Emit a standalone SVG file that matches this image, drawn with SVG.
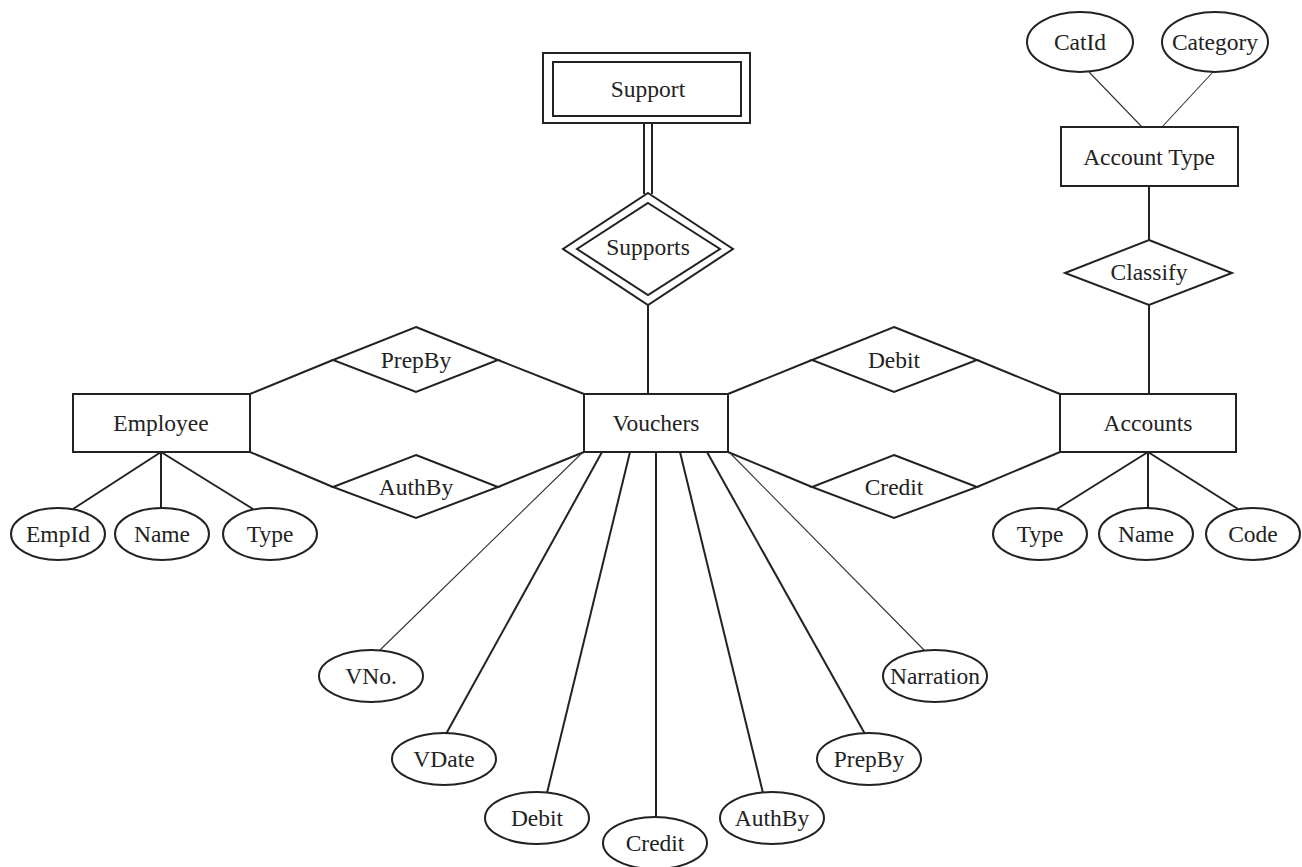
<svg xmlns="http://www.w3.org/2000/svg" width="1302" height="867" viewBox="0 0 1302 867">
<style>
.sh{fill:#fff;stroke:#222;stroke-width:2}
.ln{fill:none;stroke:#222;stroke-width:2}
.thin{fill:none;stroke:#333;stroke-width:1.1}
text{font-family:"Liberation Serif","Times New Roman",serif;font-size:23.5px;fill:#222;text-anchor:middle;dominant-baseline:central}
</style>
<rect width="1302" height="867" fill="#fff"/>
<g id="connectors">
<line class="ln" x1="644" y1="123" x2="644" y2="194"/>
<line class="ln" x1="652" y1="123" x2="652" y2="194"/>
<line class="ln" x1="648" y1="305" x2="648" y2="394"/>
<polyline class="ln" points="250,394 333,360"/>
<polyline class="ln" points="498,360 584,394"/>
<polyline class="ln" points="250,452 333,487"/>
<polyline class="ln" points="498,487 584,452"/>
<polyline class="ln" points="728,394 812,360"/>
<polyline class="ln" points="977,360 1060,394"/>
<polyline class="ln" points="728,452 812,487"/>
<polyline class="ln" points="977,487 1060,452"/>
<line class="ln" x1="1149" y1="186" x2="1149" y2="240"/>
<line class="ln" x1="1149" y1="305" x2="1149" y2="394"/>
<line class="thin" x1="1089" y1="72" x2="1142" y2="127"/>
<line class="thin" x1="1213" y1="72" x2="1162" y2="127"/>
<line class="ln" x1="161" y1="452" x2="73" y2="509"/>
<line class="ln" x1="161" y1="452" x2="161" y2="508"/>
<line class="ln" x1="161" y1="452" x2="253" y2="509"/>
<line class="ln" x1="1148" y1="452" x2="1057" y2="509"/>
<line class="ln" x1="1148" y1="452" x2="1148" y2="508"/>
<line class="ln" x1="1148" y1="452" x2="1238" y2="509"/>
<line class="thin" x1="582" y1="453" x2="380" y2="650"/>
<line class="ln" x1="602" y1="452" x2="446" y2="734"/>
<line class="ln" x1="630" y1="452" x2="547" y2="793"/>
<line class="ln" x1="656" y1="452" x2="656" y2="817"/>
<line class="ln" x1="680" y1="452" x2="763" y2="793"/>
<line class="ln" x1="707" y1="452" x2="865" y2="734"/>
<line class="thin" x1="730" y1="453" x2="925" y2="651"/>
</g>
<g id="support">
<rect class="sh" x="543" y="53" width="207" height="70"/>
<rect class="sh" x="553" y="62" width="188" height="54"/>
<text x="648" y="89">Support</text>
</g>
<g id="supports">
<polygon class="sh" points="648,193 733,249 648,305 563,249"/>
<polygon class="sh" points="648,203 720,249 648,295 577,249"/>
<text x="648" y="247">Supports</text>
</g>
<g id="employee">
<rect class="sh" x="73" y="394" width="177" height="58"/>
<text x="161" y="423">Employee</text>
</g>
<g id="vouchers">
<rect class="sh" x="584" y="394" width="144" height="58"/>
<text x="656" y="423">Vouchers</text>
</g>
<g id="accounts">
<rect class="sh" x="1060" y="394" width="176" height="58"/>
<text x="1148" y="423">Accounts</text>
</g>
<g id="accounttype">
<rect class="sh" x="1061" y="127" width="177" height="59"/>
<text x="1149" y="157">Account Type</text>
</g>
<g id="classify">
<polygon class="sh" points="1149,240 1232,273 1149,305 1065,273"/>
<text x="1149" y="272">Classify</text>
</g>
<g id="prepby-rel">
<polygon class="sh" points="416,327 498,360 416,392 333,360"/>
<text x="416" y="360">PrepBy</text>
</g>
<g id="authby-rel">
<polygon class="sh" points="416,455 498,487 416,518 333,487"/>
<text x="416" y="487">AuthBy</text>
</g>
<g id="debit-rel">
<polygon class="sh" points="894,327 977,360 894,392 812,360"/>
<text x="894" y="360">Debit</text>
</g>
<g id="credit-rel">
<polygon class="sh" points="894,455 977,487 894,518 812,487"/>
<text x="894" y="487">Credit</text>
</g>
<g id="catid"><ellipse class="sh" cx="1080" cy="42" rx="53" ry="30"/><text x="1080" y="42">CatId</text></g>
<g id="category"><ellipse class="sh" cx="1215" cy="42" rx="53" ry="30"/><text x="1215" y="42">Category</text></g>
<g id="empid"><ellipse class="sh" cx="58" cy="534" rx="47" ry="26"/><text x="58" y="534">EmpId</text></g>
<g id="empname"><ellipse class="sh" cx="162" cy="534" rx="47" ry="26"/><text x="162" y="534">Name</text></g>
<g id="emptype"><ellipse class="sh" cx="270" cy="534" rx="47" ry="26"/><text x="270" y="534">Type</text></g>
<g id="acctype"><ellipse class="sh" cx="1040" cy="534" rx="47" ry="26"/><text x="1040" y="534">Type</text></g>
<g id="accname"><ellipse class="sh" cx="1146" cy="534" rx="47" ry="26"/><text x="1146" y="534">Name</text></g>
<g id="acccode"><ellipse class="sh" cx="1253" cy="534" rx="47" ry="26"/><text x="1253" y="534">Code</text></g>
<g id="vno"><ellipse class="sh" cx="371" cy="676" rx="52" ry="26"/><text x="371" y="676">VNo.</text></g>
<g id="vdate"><ellipse class="sh" cx="444" cy="759" rx="52" ry="26"/><text x="444" y="759">VDate</text></g>
<g id="vdebit"><ellipse class="sh" cx="537" cy="818" rx="52" ry="26"/><text x="537" y="818">Debit</text></g>
<g id="vcredit"><ellipse class="sh" cx="655" cy="843" rx="52" ry="26"/><text x="655" y="843">Credit</text></g>
<g id="vauthby"><ellipse class="sh" cx="772" cy="818" rx="52" ry="26"/><text x="772" y="818">AuthBy</text></g>
<g id="vprepby"><ellipse class="sh" cx="869" cy="759" rx="52" ry="26"/><text x="869" y="759">PrepBy</text></g>
<g id="narration"><ellipse class="sh" cx="935" cy="676" rx="52" ry="26"/><text x="935" y="676">Narration</text></g>
</svg>
